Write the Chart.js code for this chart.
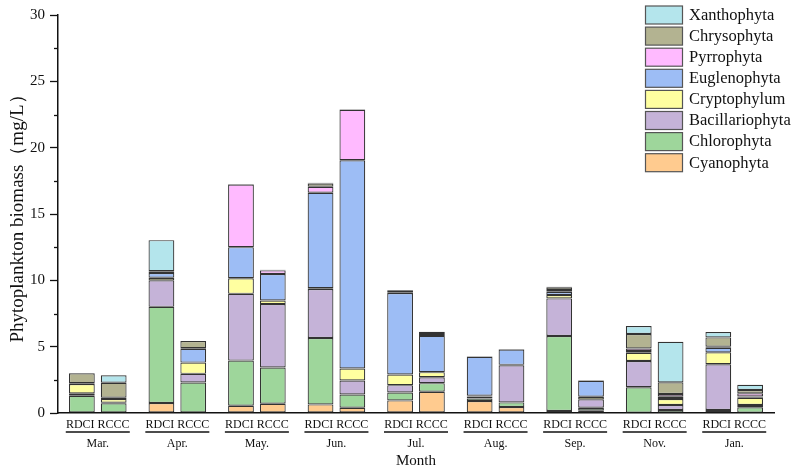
<!DOCTYPE html>
<html lang="en">
<head>
    <meta charset="UTF-8">
    <title>Phytoplankton biomass</title>
    <style>
        body {
            margin: 0;
            background: #fff;
        }
        .chart-box {
            width: 800px;
            height: 473px;
        }
    </style>
</head>
<body>

<div class="chart-box">
    <canvas id="biomassChart" width="800" height="473"></canvas>
</div>

<script src="https://cdn.jsdelivr.net/npm/chart.js"></script>
<script>
    // months and sites
    const months = ['Mar.', 'Apr.', 'May.', 'Jun.', 'Jul.', 'Aug.', 'Sep.', 'Nov.', 'Jan.'];
    const sites = ['RDCI', 'RCCC'];
    const phyla = ['Cyanophyta', 'Chlorophyta', 'Bacillariophyta', 'Cryptophylum',
                   'Euglenophyta', 'Pyrrophyta', 'Chrysophyta', 'Xanthophyta'];
    const yTicks = [0, 5, 10, 15, 20, 25, 30];

    // biomass (mg/L), one value per month
    const cyanoRDCI   = [0.05, 0.75, 0.55, 0.65, 0.95, 0.90, 0.15, 0.03, 0.08];
    const chloroRDCI  = [1.25, 7.25, 3.40, 5.00, 0.60, 0.20, 5.65, 1.91, 0.15];
    const bacilRDCI   = [0.18, 2.00, 5.03, 3.70, 0.55, 0.15, 2.84, 1.98, 3.44];
    const cryptoRDCI  = [0.71, 0.20, 1.18, 0.05, 0.80, 0.05, 0.25, 0.62, 0.90];
    const eugleRDCI   = [0.05, 0.35, 2.34, 7.20, 6.15, 2.94, 0.25, 0.13, 0.35];
    const pyrroRDCI   = [0.00, 0.08, 4.72, 0.45, 0.05, 0.00, 0.13, 0.20, 0.08];
    const chrysoRDCI  = [0.75, 0.05, 0.05, 0.25, 0.15, 0.03, 0.20, 1.08, 0.70];
    const xanthoRDCI  = [0.00, 2.35, 0.00, 0.05, 0.02, 0.00, 0.05, 0.61, 0.40];

    const cyanoRCCC   = [0.05, 0.05, 0.70, 0.40, 1.60, 0.45, 0.20, 0.03, 0.03];
    const chloroRCCC  = [0.68, 2.25, 2.73, 1.00, 0.65, 0.35, 0.20, 0.20, 0.40];
    const bacilRCCC   = [0.05, 0.65, 4.78, 1.05, 0.45, 2.80, 0.63, 0.37, 0.17];
    const cryptoRCCC  = [0.27, 0.85, 0.27, 0.90, 0.38, 0.03, 0.20, 0.46, 0.55];
    const eugleRCCC   = [0.10, 1.03, 2.00, 15.70, 2.73, 1.15, 1.20, 0.17, 0.10];
    const pyrroRCCC   = [0.00, 0.05, 0.27, 3.80, 0.15, 0.00, 0.03, 0.20, 0.23];
    const chrysoRCCC  = [1.13, 0.55, 0.05, 0.05, 0.17, 0.05, 0.03, 0.88, 0.25];
    const xanthoRCCC  = [0.56, 0.00, 0.00, 0.00, 0.00, 0.00, 0.00, 3.06, 0.40];

    const seriesRDCI = [cyanoRDCI, chloroRDCI, bacilRDCI, cryptoRDCI, eugleRDCI, pyrroRDCI, chrysoRDCI, xanthoRDCI];
    const seriesRCCC = [cyanoRCCC, chloroRCCC, bacilRCCC, cryptoRCCC, eugleRCCC, pyrroRCCC, chrysoRCCC, xanthoRCCC];

    const colors = ['#ffcb8f', '#9ed69b', '#c5b3d8', '#ffffa0', '#9dbdf5', '#ffbaff', '#b3b391', '#b4e5ec'];

    const serif = "'Liberation Serif', 'Times New Roman', serif";

    const datasets = [];
    phyla.forEach((name, i) => {
        datasets.push({ label: name, stack: 'RDCI', data: seriesRDCI[i], backgroundColor: colors[i] });
        datasets.push({ label: name, stack: 'RCCC', data: seriesRCCC[i], backgroundColor: colors[i] });
    });
    datasets.forEach(ds => {
        ds.borderColor = '#333';
        ds.borderWidth = 1.2;
        ds.borderSkipped = false;
        ds.categoryPercentage = 0.8;
        ds.barPercentage = 0.81;
    });

    // underline under the site labels, minor y ticks, and the legend box
    const extras = {
        id: 'extras',
        afterDraw(chart) {
            const ctx = chart.ctx;
            const x = chart.scales.x;
            const y = chart.scales.y;
            ctx.save();
            ctx.strokeStyle = '#111';

            // minor ticks
            ctx.lineWidth = 1.3;
            for (let v = 2.5; v < 30; v += 5) {
                const py = Math.round(y.getPixelForValue(v)) + 0.5;
                ctx.beginPath();
                ctx.moveTo(x.left - 4, py);
                ctx.lineTo(x.left, py);
                ctx.stroke();
            }

            // group underline
            ctx.lineWidth = 1.5;
            months.forEach((m, i) => {
                const cx = x.getPixelForValue(i);
                ctx.beginPath();
                ctx.moveTo(cx - 32, 432);
                ctx.lineTo(cx + 32, 432);
                ctx.stroke();
            });

            // legend, top entry = last phylum
            ctx.font = '16.5px ' + serif;
            ctx.textBaseline = 'middle';
            ctx.textAlign = 'left';
            ctx.lineWidth = 1.2;
            for (let k = 0; k < phyla.length; k++) {
                const idx = phyla.length - 1 - k;
                const top = 6 + k * 21.1;
                ctx.fillStyle = colors[idx];
                ctx.fillRect(645.5, top, 37, 18);
                ctx.strokeStyle = '#555';
                ctx.strokeRect(645.5, top, 37, 18);
                ctx.fillStyle = '#111';
                ctx.fillText(phyla[idx], 689, top + 9.5);
            }
            ctx.restore();
        }
    };

    const ctx = document.getElementById('biomassChart').getContext('2d');
    new Chart(ctx, {
        type: 'bar',
        data: {
            labels: months.map(m => [sites.join(' '), m]),
            datasets: datasets
        },
        options: {
            responsive: false,
            animation: false,
            layout: {
                padding: { top: 15, right: 26, left: 0, bottom: 0 }
            },
            plugins: {
                legend: { display: false },
                tooltip: { enabled: false }
            },
            scales: {
                x: {
                    stacked: true,
                    grid: { display: false, drawTicks: false },
                    border: { display: true, color: '#111', width: 1.5 },
                    ticks: {
                        color: '#111',
                        maxRotation: 0,
                        autoSkip: false,
                        padding: 2,
                        font: { family: serif, size: 12, lineHeight: 1.6 }
                    },
                    title: {
                        display: true,
                        text: 'Month',
                        color: '#111',
                        font: { family: serif, size: 15 },
                        padding: { top: 0, bottom: 3 }
                    },
                    afterFit(scale) { scale.height = 60; }
                },
                y: {
                    stacked: true,
                    min: 0,
                    max: 30,
                    afterBuildTicks(scale) { scale.ticks = yTicks.map(v => ({ value: v })); },
                    grid: {
                        drawOnChartArea: false,
                        drawTicks: true,
                        tickLength: 8,
                        tickColor: '#111',
                        tickWidth: 1.3
                    },
                    border: { display: true, color: '#111', width: 1.5 },
                    ticks: {
                        color: '#111',
                        padding: 5,
                        font: { family: serif, size: 15 }
                    },
                    title: {
                        display: true,
                        text: 'Phytoplankton biomass（mg/L）',
                        color: '#111',
                        font: { family: serif, size: 19 },
                        padding: { top: 7, bottom: 0 }
                    },
                    afterFit(scale) { scale.width = 58; }
                }
            }
        },
        plugins: [extras]
    });
</script>

</body>
</html>
